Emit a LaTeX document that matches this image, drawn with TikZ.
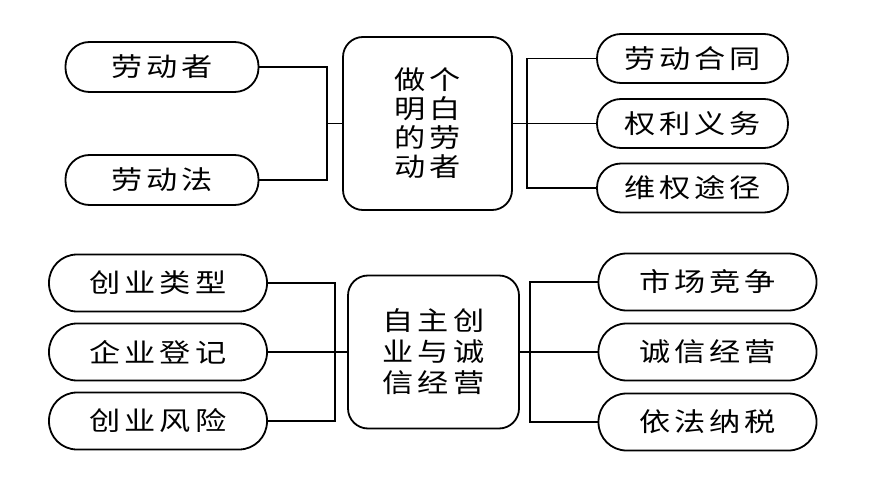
\documentclass[tikz,border=0pt]{standalone}
\usepackage{fontspec}
\usepackage{graphicx}
\setmainfont{Noto Sans CJK SC}
\newfontfamily\cjk[LetterSpace=13]{Noto Sans CJK SC}
\newcommand\hs[1]{\scalebox{1.2}[1]{#1}}
\tikzset{
  conn/.style={line width=1.8pt, black},
  leaf/.style={draw, line width=1.8pt, rectangle, inner sep=0pt,
    font=\cjk\fontsize{26}{29}\selectfont},
  leafA/.style={leaf, minimum width=193pt, minimum height=50pt, rounded corners=24pt},
  leafR/.style={leaf, minimum width=191pt, minimum height=49pt, rounded corners=24pt},
  leafB/.style={leaf, minimum width=218pt, minimum height=57pt, rounded corners=28pt},
  hub/.style={draw, line width=1.8pt, rectangle, rounded corners=20pt, inner sep=0pt,
    align=center, font=\cjk\fontsize{26}{29}\selectfont},
}
\begin{document}
\begin{tikzpicture}[x=1pt, y=-1pt]
\useasboundingbox (0,0) rectangle (870,489);
% top group
\node[hub, minimum width=169pt, minimum height=173pt] (hubA) at (427.5,123.5)
  {\hs{做个}\\\hs{明白}\\\hs{的劳}\\\hs{动者}};
\node[leafA] (la1) at (162,67) {\hs{劳动者}};
\node[leafA] (la2) at (162,180) {\hs{劳动法}};
\node[leafR] (ra1) at (692.5,58.5) {\hs{劳动合同}};
\node[leafR] (ra2) at (692.5,123.5) {\hs{权利义务}};
\node[leafR] (ra3) at (692.5,188) {\hs{维权途径}};
\coordinate (tl) at (327,123.5);
\coordinate (tr) at (527,123.5);
\draw[conn] (la1.east) -| (tl);
\draw[conn] (la2.east) -| (tl);
\draw[conn] (tl) -- (hubA.west);
\draw[conn] (ra1.west) -| (tr);
\draw[conn] (ra3.west) -| (tr);
\draw[conn] (ra2.west) -- (hubA.east);
% bottom group
\node[hub, minimum width=171pt, minimum height=153pt, font=\cjk\fontsize{26}{31}\selectfont] (hubB) at (433.5,352)
  {\hs{自主创}\\\hs{业与诚}\\\hs{信经营}};
\node[leafB] (lb1) at (158,283) {\hs{创业类型}};
\node[leafB] (lb2) at (158,352) {\hs{企业登记}};
\node[leafB] (lb3) at (158,421) {\hs{创业风险}};
\node[leafB] (rb1) at (707.5,282) {\hs{市场竞争}};
\node[leafB] (rb2) at (707.5,352) {\hs{诚信经营}};
\node[leafB] (rb3) at (707.5,422) {\hs{依法纳税}};
\coordinate (bl) at (335,352);
\coordinate (br) at (530,352);
\draw[conn] (lb1.east) -| (bl);
\draw[conn] (lb3.east) -| (bl);
\draw[conn] (lb2.east) -- (hubB.west);
\draw[conn] (rb1.west) -| (br);
\draw[conn] (rb3.west) -| (br);
\draw[conn] (rb2.west) -- (hubB.east);
\end{tikzpicture}
\end{document}
